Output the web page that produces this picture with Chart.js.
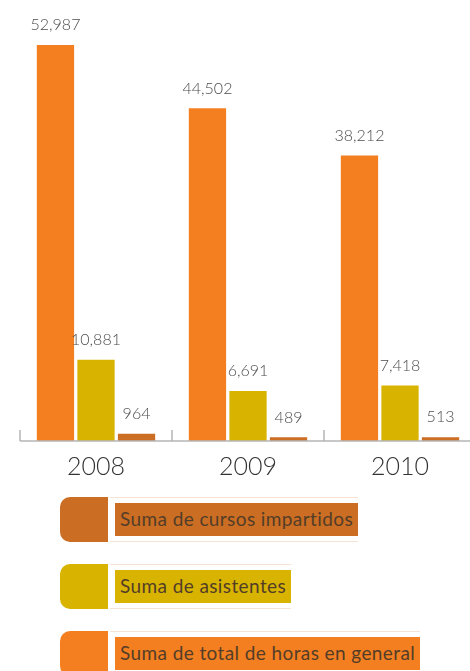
<!DOCTYPE html>
<html>
<head>
<meta charset="utf-8">
<script src="https://cdn.jsdelivr.net/npm/chart.js@4"></script>
<style>
  html, body { margin: 0; padding: 0; background: #fff; overflow: hidden; }
  #wrap { position: relative; width: 476px; height: 485px; }
  #legend { position: relative; margin: 12px 0 0 60px; }
  .item { display: flex; align-items: center; height: 45px; margin-bottom: 22px; }
  .swatch { width: 48px; height: 45px; border-radius: 10px 0 0 10px; }
  .frame { height: 43px; margin-left: 2px; border-top: 1px solid #f6e3d6; border-bottom: 1px solid #f6e3d6; display: flex; align-items: center; padding-left: 5px; }
  .label { font-family: Lato, "Noto Sans", sans-serif; font-size: 19px; letter-spacing: 0.4px; color: #533d28; padding: 5px 5px 6px 5px; line-height: 22px; white-space: nowrap; }
</style>
</head>
<body>
<div id="wrap"><canvas id="grafica"></canvas></div>
<div id="legend"></div>
<script>
const years = ['2008', '2009', '2010'];
const horas = [52987, 44502, 38212];
const asistentes = [10881, 6691, 7418];
const cursos = [964, 489, 513];

const naranja = '#f47f20';
const amarillo = '#d8b400';
const cobre = '#cb6d23';

// value labels above each bar, baseline with ticks at the category edges
const extras = {
  id: 'extras',
  afterDatasetsDraw(chart) {
    const ctx = chart.ctx;
    const area = chart.chartArea;
    const x = chart.scales.x;
    ctx.save();
    ctx.strokeStyle = '#b5b5b5';
    ctx.lineWidth = 1.5;
    ctx.beginPath();
    ctx.moveTo(area.left, area.bottom);
    ctx.lineTo(area.right, area.bottom);
    const step = x.getPixelForValue(1) - x.getPixelForValue(0);
    years.forEach((y, i) => {
      const px = Math.round(x.getPixelForValue(i) - step / 2);
      ctx.moveTo(px, area.bottom);
      ctx.lineTo(px, area.bottom - 11);
    });
    ctx.stroke();

    ctx.font = '300 16px Lato, "Noto Sans", sans-serif';
    ctx.fillStyle = '#4d4d4d';
    ctx.textAlign = 'center';
    ctx.textBaseline = 'bottom';
    chart.data.datasets.forEach((ds, d) => {
      chart.getDatasetMeta(d).data.forEach((bar, i) => {
        ctx.fillText(ds.data[i].toLocaleString('en-US'), bar.x, bar.y - 12);
      });
    });
    ctx.restore();
  }
};

const chart = new Chart(document.getElementById('grafica'), {
  type: 'bar',
  data: {
    labels: years,
    datasets: [
      { label: 'Suma de total de horas en general', data: horas, backgroundColor: naranja },
      { label: 'Suma de asistentes', data: asistentes, backgroundColor: amarillo },
      { label: 'Suma de cursos impartidos', data: cursos, backgroundColor: cobre }
    ]
  },
  options: {
    responsive: true,
    maintainAspectRatio: false,
    animation: false,
    layout: { padding: { left: 20, right: 0, top: 0, bottom: 0 } },
    datasets: { bar: { categoryPercentage: 0.8, barPercentage: 0.92 } },
    plugins: { legend: { display: false }, tooltip: { enabled: false } },
    scales: {
      x: {
        grid: { display: false },
        border: { display: false },
        ticks: { padding: 3, color: '#333', font: { family: 'Lato, "Noto Sans", sans-serif', size: 25, weight: 300 } }
      },
      y: { display: false, min: 0, max: 59000 }
    }
  },
  plugins: [extras]
});

// legend boxes, listed from the smallest series up
const legend = document.getElementById('legend');
chart.data.datasets.slice().reverse().forEach(ds => {
  const item = document.createElement('div');
  item.className = 'item';
  item.innerHTML = '<div class="swatch" style="background:' + ds.backgroundColor + '"></div>' +
    '<div class="frame"><div class="label" style="background:' + ds.backgroundColor + '">' + ds.label + '</div></div>';
  legend.appendChild(item);
});
</script>
</body>
</html>
